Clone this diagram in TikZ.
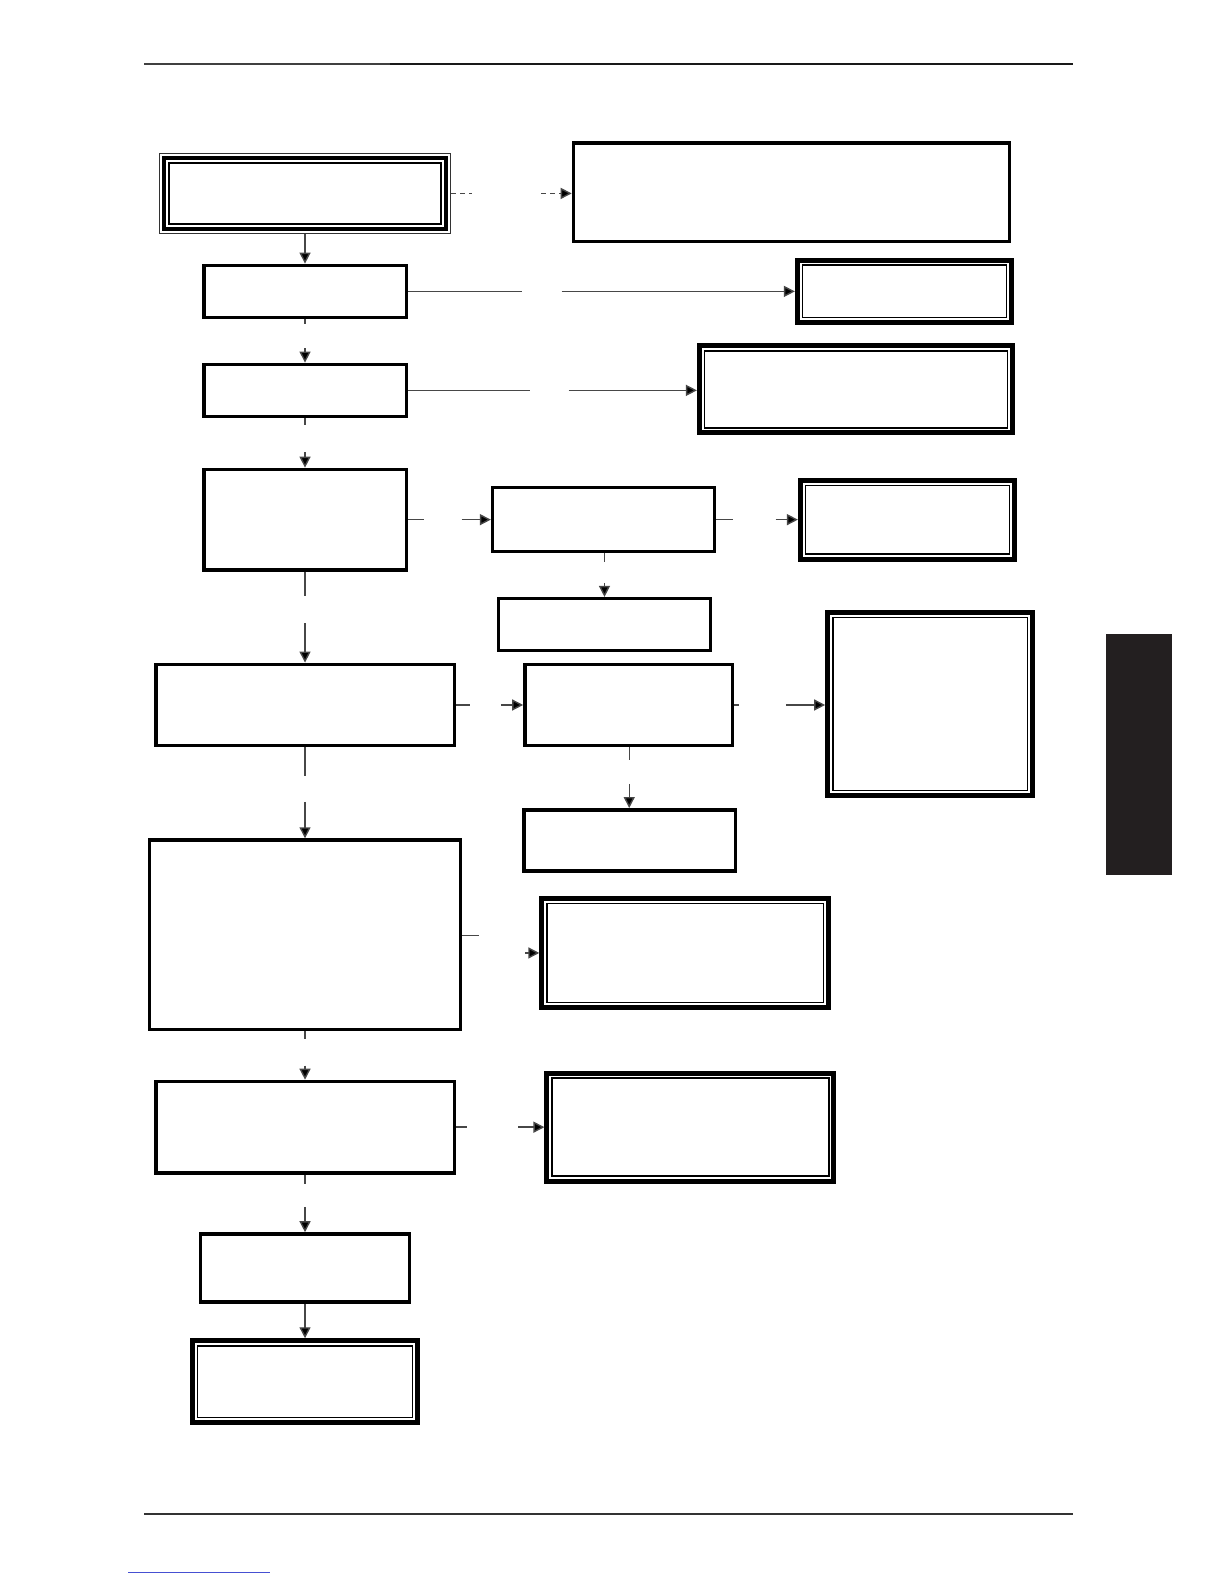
\documentclass[tikz,border=0pt]{standalone}
\usetikzlibrary{arrows.meta,calc}
\definecolor{barblack}{HTML}{231F20}
\definecolor{linkblue}{RGB}{70,80,210}
\tikzset{
  sbox/.style={draw=black, line width=3.5pt, inner sep=0pt, rectangle},
  dbox/.style={draw=black, line width=5pt, inner sep=0pt, rectangle},
  tbox/.style={inner sep=0pt, outer sep=0pt, rectangle},
  conn/.style={draw=black!72, line width=1.4pt},
  arr/.style={conn, -{Triangle[length=11pt,width=11pt,fill=black]}},
  dashconn/.style={conn, dash pattern=on 5pt off 4pt},
}
\newcommand\plainbox[5]{\node[sbox, minimum width={(#4)*1.01-3.5}, minimum height={(#5)*1.01-3.5}] (#1) at (#2,#3) {};}
\newcommand\dblbox[5]{\node[dbox, minimum width={(#4)*1.01-5}, minimum height={(#5)*1.01-5}] (#1) at (#2,#3) {};
  \draw[line width=1.6pt] ($(#1.north west)+(7.5,7.5)$) rectangle ($(#1.south east)+(-7.5,-7.5)$);}
\newcommand\tripbox[5]{\node[tbox, minimum width={(#4)*1.01}, minimum height={(#5)*1.01}] (#1) at (#2,#3) {};
  \draw[line width=1pt, black!80] ($(#1.north west)+(0.5,0.5)$) rectangle ($(#1.south east)+(-0.5,-0.5)$);
  \draw[line width=3.8pt] ($(#1.north west)+(5.2,5.2)$) rectangle ($(#1.south east)+(-5.2,-5.2)$);
  \draw[line width=1.7pt] ($(#1.north west)+(10.4,10.4)$) rectangle ($(#1.south east)+(-10.4,-10.4)$);}
\begin{document}
\begin{tikzpicture}[x=1.01pt,y=-1.01pt]
\useasboundingbox (0,0) rectangle (1211.88,1568.32);

% rules and side bar
\draw[line width=2pt, black!75] (143,63) -- (386,63);
\draw[line width=2pt, black!90] (386,63) -- (1062,63);
\draw[line width=2.2pt, black!80] (143,1499) -- (1062,1499);
\draw[line width=1pt, linkblue] (127,1557) -- (267,1557);
\fill[barblack] (1095,628) rectangle (1160,866);

% left column
\tripbox{A}{302}{191.5}{290}{81}
\plainbox{B}{302}{288.5}{204}{55}
\plainbox{D}{302}{386.5}{204}{55}
\plainbox{F}{302}{514.5}{204}{103}
\plainbox{K}{302}{698}{299}{84}
\plainbox{N}{302}{925.5}{311}{191}
\plainbox{P}{302}{1116}{299}{94}
\plainbox{R}{302}{1255.5}{210}{71}
\dblbox{S}{302}{1368}{228}{86}

% right side
\plainbox{T}{783.5}{190.5}{435}{101}
\dblbox{C}{895.5}{288.5}{217}{67}
\dblbox{E}{847.5}{385.5}{315}{91}
\plainbox{G}{597.5}{514.5}{223}{67}
\dblbox{H}{898.5}{514.5}{217}{83}
\plainbox{I}{598.5}{618.5}{213}{55}
\plainbox{L}{622.5}{698}{209}{84}
\dblbox{J}{921}{697}{208}{186}
\plainbox{M}{623.5}{832}{213}{64}
\dblbox{O}{678.5}{943.5}{289}{113}
\dblbox{Q}{683.5}{1116}{289}{112}

% free ends of the broken connectors
\coordinate (at1) at (467,191.5);  \coordinate (at2) at (536,191.5);
\coordinate (bc1) at (517,288.5);  \coordinate (bc2) at (556,288.5);
\coordinate (bd1) at (302,321);    \coordinate (bd2) at (302,345);
\coordinate (de1) at (525,386.5);  \coordinate (de2) at (563,386.5);
\coordinate (df1) at (302,421);    \coordinate (df2) at (302,448);
\coordinate (fg1) at (420,514.5);  \coordinate (fg2) at (457,514.5);
\coordinate (gh1) at (726,514.5);  \coordinate (gh2) at (768,514.5);
\coordinate (gi1) at (598.5,556);  \coordinate (gi2) at (598.5,577);
\coordinate (fk1) at (302,590);    \coordinate (fk2) at (302,617);
\coordinate (kl1) at (465,698);    \coordinate (kl2) at (496,698);
\coordinate (lj1) at (732,698);    \coordinate (lj2) at (778,698);
\coordinate (lm1) at (623,752);    \coordinate (lm2) at (623,776);
\coordinate (kn1) at (302,768);    \coordinate (kn2) at (302,794);
\coordinate (no1) at (474,926);    \coordinate (no2) at (520,943.5);
\coordinate (np1) at (302,1029);   \coordinate (np2) at (302,1055);
\coordinate (pq1) at (462,1116);   \coordinate (pq2) at (513,1116);
\coordinate (pr1) at (302,1172);   \coordinate (pr2) at (302,1195);

% connectors
\draw[arr] (A.south) -- (B.north);
\draw[dashconn] (A.east) -- (at1);
\draw[dashconn, -{Triangle[length=11pt,width=11pt,fill=black]}] (at2) -- (at2 -| T.west);
\draw[conn] (B.east) -- (bc1);  \draw[arr] (bc2) -- (bc2 -| C.west);
\draw[conn] (B.south) -- (bd1); \draw[arr] (bd2) -- (D.north);
\draw[conn] (D.east) -- (de1);  \draw[arr] (de2) -- (de2 -| E.west);
\draw[conn] (D.south) -- (df1); \draw[arr] (df2) -- (F.north);
\draw[conn] (F.east) -- (fg1);  \draw[arr] (fg2) -- (fg2 -| G.west);
\draw[conn] (G.east) -- (gh1);  \draw[arr] (gh2) -- (gh2 -| H.west);
\draw[conn] (G.south -| gi1) -- (gi1); \draw[arr] (gi2) -- (gi2 |- I.north);
\draw[conn] (F.south) -- (fk1); \draw[arr] (fk2) -- (K.north);
\draw[conn] (K.east) -- (kl1);  \draw[arr] (kl2) -- (kl2 -| L.west);
\draw[conn] (L.east) -- (lj1);  \draw[arr] (lj2) -- (lj2 -| J.west);
\draw[conn] (L.south -| lm1) -- (lm1); \draw[arr] (lm2) -- (lm2 |- M.north);
\draw[conn] (K.south) -- (kn1); \draw[arr] (kn2) -- (N.north);
\draw[conn] (N.east |- no1) -- (no1); \draw[arr] (no2) -- (O.west);
\draw[conn] (N.south) -- (np1); \draw[arr] (np2) -- (P.north);
\draw[conn] (P.east) -- (pq1);  \draw[arr] (pq2) -- (pq2 -| Q.west);
\draw[conn] (P.south) -- (pr1); \draw[arr] (pr2) -- (R.north);
\draw[arr] (R.south) -- (S.north);
\end{tikzpicture}
\end{document}
